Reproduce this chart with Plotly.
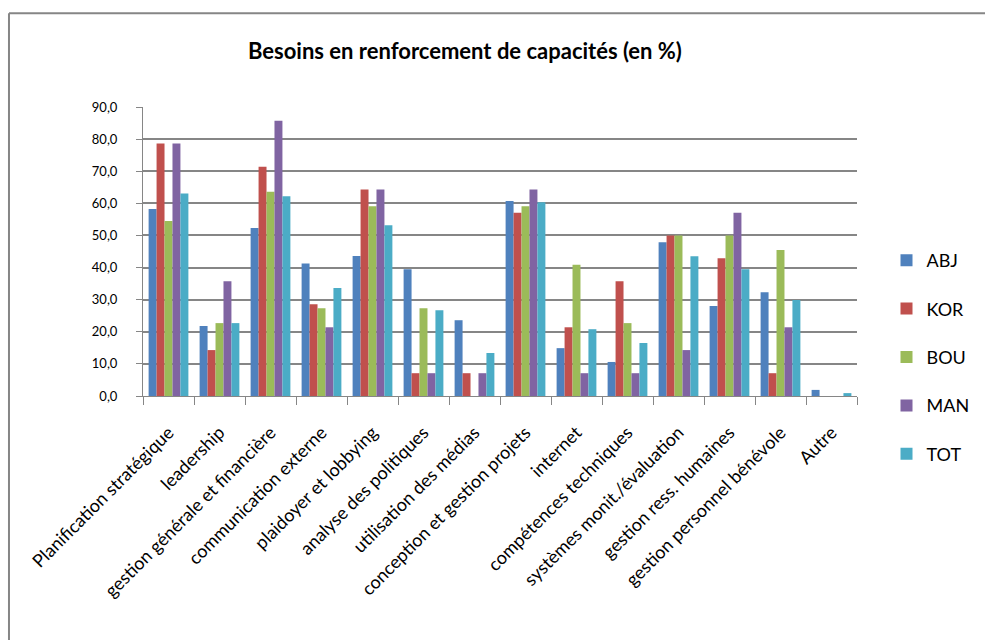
import plotly.graph_objects as go

# Capacity-building needs by site, in percent
categories = [
    "Planification stratégique", "leadership", "gestion générale et financière",
    "communication externe", "plaidoyer et lobbying", "analyse des politiques",
    "utilisation des médias", "conception et gestion projets", "internet",
    "compétences techniques", "systèmes monit./évaluation", "gestion ress. humaines",
    "gestion personnel bénévole", "Autre",
]
abj = [58.2, 21.8, 52.3, 41.3, 43.6, 39.5, 23.6, 60.7, 14.9, 10.6, 47.9, 28.0, 32.3, 1.9]
kor = [78.6, 14.3, 71.4, 28.6, 64.3, 7.1, 7.1, 57.1, 21.4, 35.7, 50.0, 42.9, 7.1, 0.0]
bou = [54.5, 22.7, 63.6, 27.3, 59.1, 27.3, 0.0, 59.1, 40.9, 22.7, 50.0, 50.0, 45.5, 0.0]
man = [78.6, 35.7, 85.7, 21.4, 64.3, 7.1, 7.1, 64.3, 7.1, 7.1, 14.3, 57.1, 21.4, 0.0]
tot = [63.1, 22.7, 62.2, 33.6, 53.2, 26.7, 13.4, 60.3, 20.8, 16.5, 43.5, 39.5, 29.9, 0.9]

series_names = ["ABJ", "KOR", "BOU", "MAN", "TOT"]
series_values = [abj, kor, bou, man, tot]
series_colors = ["#4F81BD", "#C0504D", "#9BBB59", "#8064A2", "#4BACC6"]

y_ticks = [0, 10, 20, 30, 40, 50, 60, 70, 80, 90]
y_tick_text = ["0,0", "10,0", "20,0", "30,0", "40,0", "50,0", "60,0", "70,0", "80,0", "90,0"]

FONT = "Lato"
GRID = "#868686"

fig = go.Figure()
for name, vals, col in zip(series_names, series_values, series_colors):
    fig.add_trace(go.Bar(
        x=categories, y=vals, name=name, legendgroup=name,
        marker=dict(color=col, line=dict(width=0)),
    ))

fig.update_layout(
    width=985, height=640,
    margin=dict(l=143, r=128, t=107, b=244, autoexpand=False),
    paper_bgcolor="white", plot_bgcolor="white",
    barmode="group", bargap=0.22, bargroupgap=0.0,
    font=dict(family=FONT, color="black"),
    title=dict(
        text="<b>Besoins en renforcement de capacités (en %)</b>",
        x=0.472, xref="container", xanchor="center",
        y=0.92, yref="container", yanchor="middle",
        font=dict(family=FONT, size=22, color="black"),
    ),
    legend=dict(
        x=0.900, xref="container", xanchor="left",
        y=0.135, yanchor="middle",
        font=dict(family=FONT, size=18, color="black"),
        tracegroupgap=22, traceorder="grouped",
        bgcolor="rgba(0,0,0,0)",
    ),
    showlegend=True,
)

fig.update_xaxes(
    type="category", tickson="boundaries",
    ticks="outside", ticklen=8, tickcolor=GRID, tickwidth=1,
    ticklabelstandoff=18,
    showline=True, linecolor=GRID, linewidth=1,
    tickangle=-45, tickfont=dict(family=FONT, size=18, color="black"),
    showgrid=False,
)
fig.update_yaxes(
    range=[0, 90], tickvals=y_ticks, ticktext=y_tick_text,
    ticks="outside", ticklen=6, tickcolor=GRID, tickwidth=1,
    ticklabelstandoff=16,
    showline=True, linecolor=GRID, linewidth=1,
    showgrid=True, gridcolor=GRID, gridwidth=1.6,
    zeroline=False,
    tickfont=dict(family=FONT, size=13, color="black"),
)

# Frame around the chart (top and left edges)
fig.add_shape(type="line", xref="paper", yref="paper",
              x0=-0.1877, x1=1.2, y0=1.324, y1=1.324,
              line=dict(color=GRID, width=2))
fig.add_shape(type="line", xref="paper", yref="paper",
              x0=-0.1877, x1=-0.1877, y0=1.324, y1=-0.86,
              line=dict(color=GRID, width=2))

fig.write_html("out.html")
